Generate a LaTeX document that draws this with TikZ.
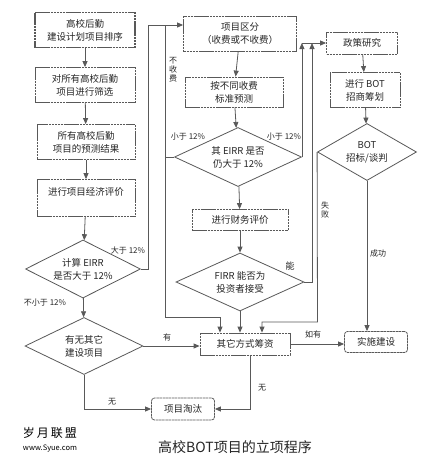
\documentclass[tikz,border=0pt]{standalone}
\usepackage{fontspec}
\setmainfont{Noto Sans CJK SC}
\usetikzlibrary{shapes.geometric,arrows.meta}
\newcommand\fsbox{\fontsize{9.5}{13}\selectfont}
\newcommand\fslab{\fontsize{8}{10}\selectfont}
\begin{document}
\begin{tikzpicture}[x=1pt,y=-1pt,
  bx/.style={draw=black!65, line width=0.8pt, dash pattern=on 2.5pt off 0.6pt, align=center, inner sep=0pt, font=\fsbox, text=black!85},
  rbx/.style={bx, rounded corners=3pt},
  dia/.style={diamond, draw=black!65, line width=0.8pt, inner sep=0pt},
  dtext/.style={align=center, font=\fsbox, text=black!85},
  arr/.style={draw=black!65, line width=0.8pt, -{Triangle[length=6pt,width=5pt]}},
  ln/.style={draw=black!65, line width=0.8pt},
  lab/.style={font=\fslab, text=black!85, inner sep=1pt, align=center}]
\useasboundingbox[fill=white] (0,0) rectangle (432,461);

% left column
\node[bx, line width=1.4pt, minimum width=100pt, minimum height=35pt] (b1) at (85,30) {高校后勤\\建设计划项目排序};
\node[bx, minimum width=100pt, minimum height=35pt] (b2) at (85,85) {对所有高校后勤\\项目进行筛选};
\node[bx, minimum width=98pt, minimum height=35pt] (b3) at (86,142) {所有高校后勤\\项目的预测结果};
\node[bx, minimum width=98pt, minimum height=37pt] (b4) at (86,198) {进行项目经济评价\\ \mbox{}};
\node[dia, minimum width=115pt, minimum height=58pt, label={[dtext]center:计算 EIRR\\是否大于 12\%}] (d1) at (83,269) {};
\node[dia, minimum width=118pt, minimum height=57pt, label={[dtext]center:有无其它\\建设项目}] (d3) at (84,346) {};

% middle column
\node[bx, minimum width=113pt, minimum height=35pt] (qf) at (240,34) {项目区分\\（收费或不收费）};
\node[bx, minimum width=98pt, minimum height=30pt] (b5) at (234,92) {按不同收费\\标准预测};
\node[dia, minimum width=127pt, minimum height=59pt, label={[dtext]center:其 EIRR 是否\\仍大于 12\%}] (d2) at (238,157) {};
\node[bx, minimum width=96pt, minimum height=21pt] (b6) at (240,220) {进行财务评价};
\node[dia, minimum width=128pt, minimum height=58pt, label={[dtext]center:FIRR 能否为\\投资者接受}] (d4) at (240,282) {};
\node[bx, minimum width=90pt, minimum height=22pt] (b7) at (245,344) {其它方式筹资};
\node[rbx, minimum width=63pt, minimum height=22pt] (b8) at (183,409) {项目淘汰};

% right column
\node[bx, minimum width=71pt, minimum height=22pt] (b9) at (362,43) {政策研究};
\node[bx, minimum width=70pt, minimum height=35pt] (b10) at (365,90) {进行 BOT\\招商筹划};
\node[dia, minimum width=99pt, minimum height=57pt, label={[dtext]center:BOT\\招标/谈判}] (d5) at (367,152) {};
\node[rbx, minimum width=63pt, minimum height=21pt] (b11) at (376,342) {实施建设};

% helper coordinates
\coordinate (k1) at (148,25);
\coordinate (k2) at (165,25);
\coordinate (k3) at (165,317);
\coordinate (k5) at (312,282);
\coordinate (k6) at (317.5,322);

% connectors left column
\draw[arr] (b1) -- (b2);
\draw[arr] (b2) -- (b3);
\draw[arr] (b3) -- (b4);
\draw[arr] (b4) -- (d1);
\draw[arr] (d1) -- (d3);
\draw[arr] (d1.east) -| (k1) -- (k1 -| qf.west);
\draw[ln] (k2) -- (k3);
\draw[arr] (k3) -| ([xshift=-25pt]b7.north);
\draw[ln] (d2.west) -- (d2.west -| k2);

% middle column
\draw[arr] (qf) -- (b5);
\draw[arr] (b5) -- (d2);
\draw[arr] (d2) -- (b6);
\draw[arr] (b6) -- (d4);
\draw[arr] (d4.south) -- (d4.south |- b7.north);
\draw[arr] (d2.east) -- (d2.east |- b9.west);
\draw[arr] (d4.east) -- (k5) -- (k5 |- b9.west);
\draw[arr] (d2.east |- b9.west) -- (b9.west);
\draw[arr] (d3.east) -- (d3.east -| b7.west);
\draw[arr] (d3.south) |- (b8.west);
\draw[arr] ([xshift=5pt]b7.south) |- (b8.east);
\draw[arr] (b7.east) -- (b7.east -| b11.west);

% right column
\draw[arr] (b9) -- (b10);
\draw[arr] (b10) -- (d5);
\draw[arr] (d5.south) -- (d5.south |- b11.north);
\draw[arr] (d5.west) -- (k6) -| ([xshift=17pt]b7.north);

% labels
\node[lab] (l1) at (128,250) {大于 12\%};
\node[lab] (l2) at (45,303) {不小于 12\%};
\node[lab, font=\fontsize{8}{9}\selectfont] (l3) at (173,70) {不\\收\\费};
\node[lab] (l4) at (188,137) {小于 12\%};
\node[lab] (l5) at (284,137) {小于 12\%};
\node[lab, font=\fontsize{9}{10}\selectfont] (l6) at (290,266) {能};
\node[lab, font=\fontsize{8}{9}\selectfont] (l7) at (325,210) {失\\败};
\node[lab] (l8) at (378,253) {成功};
\node[lab] (l9) at (313,334) {如有};
\node[lab] (l10) at (167,337) {有};
\node[lab] (l11) at (112,402) {无};
\node[lab] (l12) at (262,388) {无};

% title and logo
\node[font=\fontsize{14}{16}\selectfont, text=black!85] (title) at (235,447) {高校BOT项目的立项程序};
\node[font=\fontsize{12}{14}\selectfont] (logo1) at (50,433) {岁\,月\,联\,盟};
\node[font=\fontsize{7.5}{9}\selectfont] (logo2) at (50,449) {www.Syue.com};
\end{tikzpicture}
\end{document}
